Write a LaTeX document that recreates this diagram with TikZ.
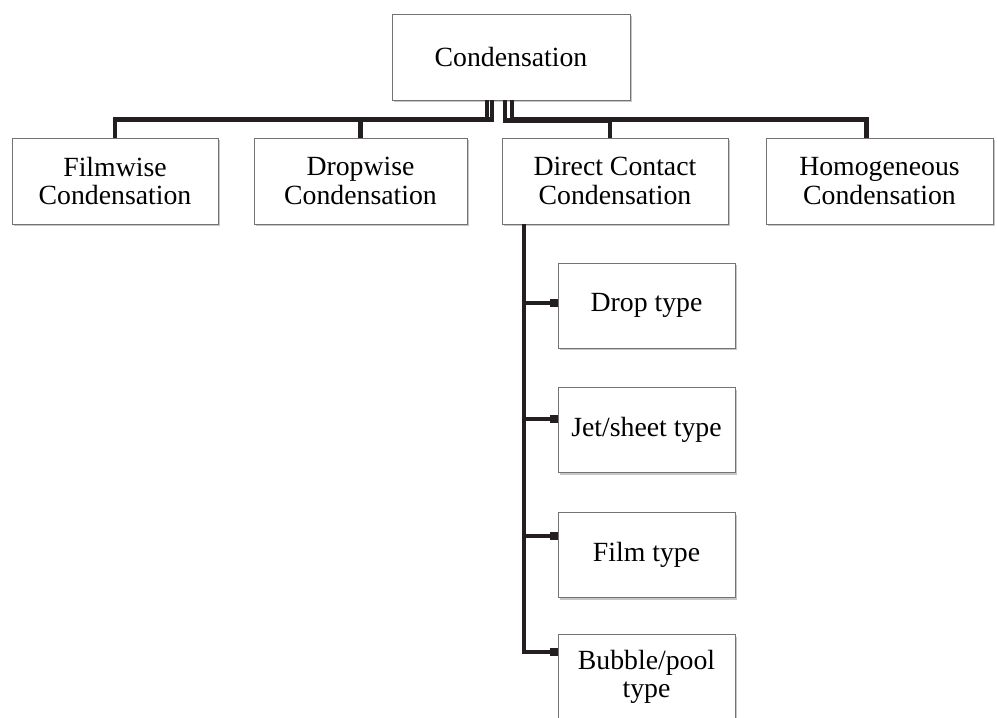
\documentclass[tikz,border=0pt]{standalone}
\usepackage{fontspec}
\setmainfont{Liberation Serif}
\usepackage{xcolor}
\usepackage{tikz}
\usetikzlibrary{arrows.meta, positioning, calc, shadows}

\definecolor{garisgelap}{HTML}{231F20}

\begin{document}
\begin{tikzpicture}[
    font=\fontsize{15.8}{16.2}\selectfont,
    kotak/.style={draw=black!55, line width=0.5pt, fill=white, align=center,
                  inner sep=0pt,
                  drop shadow={shadow xshift=1.2pt, shadow yshift=-1.2pt,
                               opacity=0.4, fill=black!55}},
    induk/.style={kotak, minimum width=4.76cm, minimum height=1.72cm},
    cabang/.style={kotak, minimum height=1.72cm},
    jenis/.style={kotak, minimum width=3.54cm, minimum height=1.70cm},
    garis/.style={draw=garisgelap, line width=2.4pt},
    ujung/.style={garis, -{Rectangle[length=4.5pt, width=4.4pt]}}
  ]
    \useasboundingbox (0,0) rectangle (19.94,-14.36);

    \node[induk] (cond) at (10.22,-1.14) {Condensation};

    \node[cabang, minimum width=4.12cm] (film) at (2.30,-3.62) {Filmwise\\Condensation};
    \node[cabang, minimum width=4.26cm] (drop) at (7.21,-3.62) {Dropwise\\Condensation};
    \node[cabang, minimum width=4.52cm] (dcc)  at (12.30,-3.62) {Direct Contact\\Condensation};
    \node[cabang, minimum width=4.54cm] (homo) at (17.59,-3.62) {Homogeneous\\Condensation};

    \node[jenis] (drp) at (12.93,-6.11) {Drop type};
    \node[jenis] (jet) at (12.93,-8.60) {Jet/sheet type};
    \node[jenis] (flm) at (12.93,-11.10) {Film type};
    \node[jenis] (bub) at (12.93,-13.54) {Bubble/pool\\type};

    % dari induk ke cabang
    \draw[garis] ([xshift=-0.48cm]cond.south) -- ++(0,-0.38) -| (film.north);
    \draw[garis] ([xshift=-0.38cm]cond.south) -- ++(0,-0.38) -| (drop.north);
    \draw[garis] ([xshift=-0.12cm]cond.south) -- ++(0,-0.40) -| ([xshift=-0.10cm]dcc.north);
    \draw[garis] ([xshift=0.02cm]cond.south)  -- ++(0,-0.38) -| ([xshift=-0.26cm]homo.north);

    % batang ke jenis kontak langsung
    \coordinate (batang) at ([xshift=-1.82cm]dcc.south);
    \foreach \n/\dy in {drp/0.05, jet/0.22, flm/0.38, bub/0.50}
      \draw[ujung] (batang) |- ([yshift=\dy cm]\n.west);
  \end{tikzpicture}
\end{document}
